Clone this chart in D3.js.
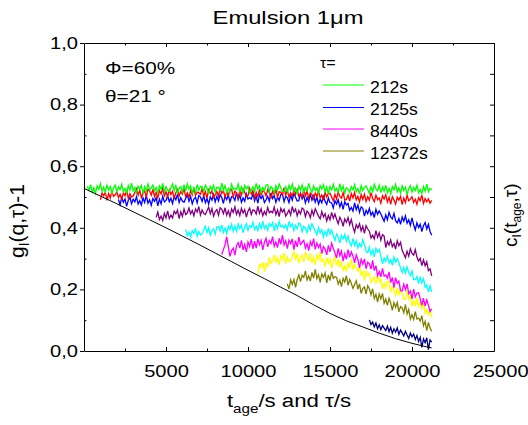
<!DOCTYPE html>
<html>
<head>
<meta charset="utf-8">
<script src="https://cdn.jsdelivr.net/npm/d3@7"></script>
<style>
body { margin: 0; background: #fff; }
text { font-family: "Liberation Sans", Arial, sans-serif; fill: #000; }
</style>
</head>
<body>
<script>
// sampling step of every series (s)
const step = 100

// g_I(q,tau)-1 against t_age, one array per tau, with the first t_age
const start212 = 200
const g212 = [
    0.535, 0.521, 0.540, 0.516, 0.530, 0.512, 0.536, 0.525, 0.543, 0.519,
    0.532, 0.515, 0.538, 0.523, 0.534, 0.510, 0.529, 0.539, 0.518, 0.533,
    0.524, 0.541, 0.517, 0.528, 0.514, 0.537, 0.522, 0.545, 0.520, 0.531,
    0.513, 0.535, 0.526, 0.538, 0.511, 0.533, 0.518, 0.542, 0.524, 0.529,
    0.539, 0.520, 0.531, 0.514, 0.536, 0.526, 0.544, 0.517, 0.533, 0.522,
    0.518, 0.530, 0.542, 0.521, 0.537, 0.513, 0.528, 0.534, 0.516, 0.540,
    0.519, 0.543, 0.525, 0.536, 0.512, 0.530, 0.516, 0.540, 0.521, 0.535,
    0.533, 0.518, 0.539, 0.529, 0.510, 0.534, 0.523, 0.538, 0.515, 0.532,
    0.531, 0.520, 0.545, 0.522, 0.537, 0.514, 0.528, 0.517, 0.541, 0.524,
    0.529, 0.524, 0.542, 0.518, 0.533, 0.511, 0.538, 0.526, 0.535, 0.513,
    0.522, 0.533, 0.517, 0.544, 0.526, 0.536, 0.514, 0.531, 0.520, 0.539,
    0.540, 0.516, 0.534, 0.528, 0.513, 0.537, 0.521, 0.542, 0.530, 0.518,
    0.519, 0.533, 0.514, 0.538, 0.524, 0.542, 0.518, 0.529, 0.511, 0.535,
    0.522, 0.539, 0.516, 0.531, 0.520, 0.544, 0.525, 0.515, 0.536, 0.521,
    0.530, 0.513, 0.537, 0.526, 0.540, 0.517, 0.532, 0.509, 0.534, 0.523,
    0.541, 0.519, 0.528, 0.516, 0.543, 0.521, 0.536, 0.512, 0.530, 0.525,
    0.515, 0.534, 0.523, 0.540, 0.518, 0.528, 0.510, 0.537, 0.521, 0.532,
    0.536, 0.524, 0.512, 0.533, 0.517, 0.541, 0.526, 0.520, 0.538, 0.514,
    0.533, 0.519, 0.538, 0.514, 0.528, 0.510, 0.534, 0.523, 0.541, 0.517,
    0.530, 0.513, 0.536, 0.521, 0.532, 0.508, 0.527, 0.537, 0.516, 0.531,
    0.521, 0.538, 0.514, 0.525, 0.511, 0.534, 0.519, 0.542, 0.517, 0.528,
    0.523
]

const startRed = 1000
const gRed = [
    0.491, 0.513, 0.504, 0.516, 0.489, 0.511, 0.496, 0.520, 0.502, 0.507,
    0.517, 0.498, 0.509, 0.492, 0.514, 0.504, 0.522, 0.495, 0.511, 0.500,
    0.503, 0.515, 0.527, 0.506, 0.522, 0.498, 0.513, 0.519, 0.501, 0.525,
    0.520, 0.506, 0.525, 0.501, 0.515, 0.497, 0.521, 0.510, 0.528, 0.504,
    0.517, 0.500, 0.523, 0.508, 0.519, 0.495, 0.514, 0.524, 0.503, 0.518,
    0.509, 0.526, 0.502, 0.513, 0.499, 0.522, 0.507, 0.530, 0.505, 0.516,
    0.514, 0.509, 0.527, 0.503, 0.518, 0.496, 0.523, 0.511, 0.520, 0.498,
    0.507, 0.518, 0.502, 0.529, 0.511, 0.521, 0.499, 0.516, 0.505, 0.524,
    0.525, 0.501, 0.519, 0.513, 0.498, 0.522, 0.506, 0.527, 0.515, 0.503,
    0.504, 0.528, 0.510, 0.521, 0.497, 0.515, 0.501, 0.525, 0.506, 0.520,
    0.518, 0.503, 0.524, 0.514, 0.495, 0.519, 0.508, 0.523, 0.500, 0.517,
    0.516, 0.505, 0.530, 0.507, 0.522, 0.499, 0.513, 0.502, 0.526, 0.509,
    0.524, 0.502, 0.511, 0.499, 0.526, 0.504, 0.519, 0.495, 0.513, 0.508,
    0.494, 0.513, 0.502, 0.519, 0.497, 0.507, 0.489, 0.516, 0.500, 0.511,
    0.512, 0.500, 0.488, 0.509, 0.493, 0.517, 0.502, 0.496, 0.514, 0.490,
    0.492, 0.506, 0.487, 0.511, 0.497, 0.515, 0.491, 0.502, 0.484, 0.508,
    0.492, 0.509, 0.486, 0.501, 0.490, 0.514, 0.495, 0.485, 0.506, 0.491,
    0.497, 0.480, 0.504, 0.493, 0.507, 0.484, 0.499, 0.476, 0.501, 0.490,
    0.477, 0.499, 0.490, 0.502, 0.475, 0.497, 0.482, 0.506, 0.488, 0.493,
    0.501, 0.482, 0.493, 0.476, 0.498, 0.488, 0.506, 0.479, 0.495, 0.484,
    0.494, 0.480, 0.489
]

const start2125 = 2100
const g2125 = [
    0.492, 0.475, 0.498, 0.483, 0.494, 0.470, 0.489, 0.499, 0.478, 0.493,
    0.484, 0.501, 0.477, 0.488, 0.474, 0.497, 0.482, 0.505, 0.480, 0.491,
    0.473, 0.495, 0.486, 0.498, 0.471, 0.493, 0.478, 0.502, 0.484, 0.489,
    0.504, 0.485, 0.496, 0.479, 0.501, 0.491, 0.509, 0.482, 0.498, 0.487,
    0.483, 0.495, 0.507, 0.486, 0.502, 0.478, 0.493, 0.499, 0.481, 0.505,
    0.500, 0.486, 0.505, 0.481, 0.495, 0.477, 0.501, 0.490, 0.508, 0.484,
    0.502, 0.487, 0.508, 0.498, 0.479, 0.503, 0.492, 0.507, 0.484, 0.501,
    0.500, 0.489, 0.514, 0.491, 0.506, 0.483, 0.497, 0.486, 0.510, 0.493,
    0.498, 0.493, 0.511, 0.487, 0.502, 0.480, 0.507, 0.495, 0.504, 0.482,
    0.491, 0.502, 0.486, 0.513, 0.495, 0.505, 0.483, 0.500, 0.489, 0.508,
    0.509, 0.485, 0.503, 0.497, 0.482, 0.506, 0.490, 0.511, 0.499, 0.487,
    0.488, 0.512, 0.494, 0.505, 0.481, 0.499, 0.485, 0.509, 0.490, 0.504,
    0.483, 0.500, 0.477, 0.492, 0.481, 0.505, 0.486, 0.476, 0.497, 0.482,
    0.481, 0.464, 0.488, 0.477, 0.491, 0.468, 0.483, 0.460, 0.485, 0.474,
    0.479, 0.457, 0.466, 0.454, 0.481, 0.459, 0.474, 0.450, 0.468, 0.463,
    0.438, 0.457, 0.446, 0.463, 0.441, 0.451, 0.433, 0.460, 0.444, 0.455,
    0.445, 0.433, 0.421, 0.442, 0.426, 0.450, 0.435, 0.429, 0.447, 0.423,
    0.416, 0.430, 0.411, 0.435, 0.421, 0.439, 0.415, 0.426, 0.408, 0.432,
    0.410, 0.393, 0.416, 0.401, 0.412, 0.388, 0.407, 0.417, 0.396, 0.411,
    0.388, 0.376
]

const startPurple = 4400
const gPurple = [
    0.434, 0.451, 0.427, 0.438, 0.424, 0.447, 0.432, 0.455, 0.430, 0.441,
    0.432, 0.454, 0.445, 0.457, 0.430, 0.452, 0.437, 0.461, 0.443, 0.448,
    0.464, 0.445, 0.456, 0.439, 0.461, 0.451, 0.469, 0.442, 0.458, 0.447,
    0.443, 0.455, 0.467, 0.446, 0.462, 0.438, 0.453, 0.459, 0.441, 0.465,
    0.460, 0.446, 0.465, 0.441, 0.455, 0.437, 0.461, 0.450, 0.468, 0.444,
    0.457, 0.440, 0.463, 0.448, 0.459, 0.435, 0.454, 0.464, 0.443, 0.458,
    0.456, 0.445, 0.470, 0.447, 0.462, 0.439, 0.453, 0.442, 0.466, 0.449,
    0.454, 0.449, 0.467, 0.443, 0.458, 0.436, 0.463, 0.451, 0.460, 0.438,
    0.447, 0.458, 0.442, 0.469, 0.451, 0.461, 0.439, 0.456, 0.445, 0.464,
    0.460, 0.436, 0.454, 0.448, 0.433, 0.457, 0.441, 0.462, 0.450, 0.438,
    0.429, 0.453, 0.435, 0.446, 0.422, 0.440, 0.426, 0.450, 0.431, 0.445,
    0.428, 0.413, 0.434, 0.424, 0.405, 0.429, 0.418, 0.433, 0.410, 0.427,
    0.403, 0.386, 0.410, 0.399, 0.413, 0.390, 0.405, 0.382, 0.407, 0.396,
    0.389, 0.367, 0.376, 0.364, 0.391, 0.369, 0.384, 0.360, 0.378, 0.373,
    0.336, 0.355, 0.344, 0.361, 0.339, 0.349, 0.331, 0.358, 0.342, 0.353,
    0.327, 0.315, 0.303, 0.324, 0.308, 0.332, 0.317, 0.311, 0.329, 0.305,
    0.292, 0.301, 0.277, 0.296, 0.277, 0.290, 0.261, 0.267, 0.244
]

const startCyan = 6200
const gCyan = [
    0.394, 0.375, 0.386, 0.369, 0.391, 0.381, 0.399, 0.372, 0.388, 0.377,
    0.381, 0.393, 0.405, 0.384, 0.400, 0.376, 0.391, 0.397, 0.379, 0.403,
    0.404, 0.390, 0.409, 0.385, 0.399, 0.381, 0.405, 0.394, 0.412, 0.388,
    0.406, 0.389, 0.412, 0.397, 0.408, 0.384, 0.403, 0.413, 0.392, 0.407,
    0.401, 0.418, 0.394, 0.405, 0.391, 0.414, 0.399, 0.422, 0.397, 0.408,
    0.392, 0.414, 0.405, 0.417, 0.390, 0.412, 0.397, 0.421, 0.403, 0.408,
    0.399, 0.410, 0.394, 0.421, 0.403, 0.413, 0.391, 0.408, 0.397, 0.416,
    0.411, 0.387, 0.405, 0.399, 0.384, 0.408, 0.392, 0.413, 0.401, 0.389,
    0.377, 0.401, 0.383, 0.394, 0.370, 0.388, 0.374, 0.398, 0.379, 0.393,
    0.374, 0.359, 0.380, 0.370, 0.351, 0.375, 0.364, 0.379, 0.356, 0.373,
    0.352, 0.341, 0.366, 0.343, 0.358, 0.335, 0.349, 0.338, 0.362, 0.345,
    0.324, 0.319, 0.337, 0.313, 0.328, 0.306, 0.333, 0.321, 0.330, 0.308,
    0.283, 0.302, 0.291, 0.308, 0.286, 0.296, 0.278, 0.305, 0.289, 0.300,
    0.286, 0.270, 0.255, 0.272, 0.253, 0.273, 0.255, 0.245, 0.260, 0.232,
    0.232, 0.242, 0.219, 0.239, 0.221, 0.235, 0.207, 0.214, 0.192, 0.212,
    0.192
]

const start8440 = 8400
const g8440 = [
    0.313, 0.329, 0.345, 0.371, 0.338, 0.307, 0.326, 0.334, 0.311, 0.342,
    0.352, 0.334, 0.359, 0.328, 0.346, 0.322, 0.354, 0.339, 0.363, 0.332,
    0.357, 0.334, 0.364, 0.345, 0.359, 0.328, 0.353, 0.366, 0.338, 0.358,
    0.349, 0.371, 0.340, 0.354, 0.336, 0.366, 0.346, 0.376, 0.344, 0.358,
    0.332, 0.360, 0.349, 0.364, 0.329, 0.358, 0.338, 0.370, 0.346, 0.353,
    0.359, 0.334, 0.348, 0.326, 0.355, 0.342, 0.365, 0.330, 0.351, 0.336,
    0.347, 0.316, 0.339, 0.331, 0.312, 0.343, 0.322, 0.350, 0.334, 0.318,
    0.302, 0.333, 0.309, 0.324, 0.292, 0.316, 0.298, 0.329, 0.304, 0.322,
    0.308, 0.286, 0.312, 0.297, 0.270, 0.298, 0.282, 0.299, 0.267, 0.288,
    0.283, 0.266, 0.294, 0.261, 0.277, 0.244, 0.258, 0.241, 0.268, 0.243,
    0.247, 0.237, 0.257, 0.222, 0.239, 0.206, 0.238, 0.220, 0.227, 0.196,
    0.195, 0.217, 0.199, 0.218, 0.186, 0.195, 0.169, 0.201, 0.176, 0.188,
    0.189, 0.169, 0.148, 0.172, 0.146, 0.166, 0.149, 0.128, 0.137
]

const startYellow = 10600
const gYellow = [
    0.250, 0.280, 0.272, 0.289, 0.257, 0.288, 0.271, 0.305, 0.284, 0.293,
    0.313, 0.288, 0.302, 0.280, 0.309, 0.296, 0.319, 0.284, 0.305, 0.290,
    0.291, 0.307, 0.323, 0.295, 0.316, 0.285, 0.304, 0.312, 0.289, 0.320,
    0.310, 0.292, 0.317, 0.286, 0.304, 0.280, 0.312, 0.297, 0.321, 0.290,
    0.297, 0.274, 0.304, 0.285, 0.299, 0.268, 0.293, 0.306, 0.278, 0.298,
    0.271, 0.293, 0.262, 0.276, 0.258, 0.288, 0.268, 0.298, 0.266, 0.280,
    0.268, 0.258, 0.279, 0.244, 0.261, 0.230, 0.262, 0.244, 0.252, 0.222,
    0.230, 0.242, 0.218, 0.250, 0.224, 0.234, 0.202, 0.221, 0.204, 0.226,
    0.224, 0.190, 0.210, 0.199, 0.177, 0.205, 0.181, 0.206, 0.187, 0.168,
    0.167, 0.195, 0.168, 0.180, 0.145, 0.166, 0.145, 0.173, 0.145, 0.160,
    0.139, 0.157, 0.122, 0.135, 0.115, 0.140, 0.109
]

const start12372 = 12400
const g12372 = [
    0.218, 0.201, 0.231, 0.216, 0.232, 0.207, 0.232, 0.247, 0.225, 0.246,
    0.239, 0.260, 0.231, 0.244, 0.227, 0.255, 0.237, 0.265, 0.235, 0.248,
    0.223, 0.250, 0.239, 0.253, 0.221, 0.247, 0.229, 0.258, 0.236, 0.242,
    0.239, 0.217, 0.230, 0.209, 0.236, 0.224, 0.245, 0.213, 0.232, 0.219,
    0.203, 0.216, 0.228, 0.201, 0.218, 0.187, 0.203, 0.208, 0.185, 0.212,
    0.202, 0.182, 0.202, 0.170, 0.184, 0.159, 0.185, 0.169, 0.187, 0.155,
    0.169, 0.148, 0.171, 0.156, 0.132, 0.157, 0.142, 0.157, 0.127, 0.144,
    0.140, 0.124, 0.151, 0.120, 0.135, 0.104, 0.118, 0.102, 0.128, 0.104,
    0.107, 0.097, 0.115, 0.082, 0.096, 0.066, 0.093, 0.075, 0.064
]

const startNavy = 17400
const gNavy = [
    0.101, 0.086, 0.094, 0.078, 0.091, 0.072, 0.085, 0.069, 0.082, 0.074,
    0.066, 0.081, 0.063, 0.077, 0.058, 0.072, 0.061, 0.075, 0.054, 0.068,
    0.059, 0.049, 0.064, 0.052, 0.041, 0.058, 0.046, 0.055, 0.037, 0.050,
    0.031, 0.044, 0.012, 0.039, 0.027, 0.043, 0.004, 0.036, 0.029
]

// black curve: g_I(q,tau)-1 against tau
const tauBlack = [0, 1000, 2000, 3000, 4000, 5000, 6000, 7000, 8000, 9000, 10000,
    11000, 12000, 13000, 14000, 15000, 16000, 17000, 18000, 19000, 20000, 21000, 21200]
const gBlack = [0.528, 0.503, 0.478, 0.452, 0.426, 0.400, 0.373, 0.346, 0.318, 0.290, 0.262,
    0.235, 0.207, 0.180, 0.150, 0.122, 0.098, 0.078, 0.058, 0.040, 0.025, 0.012, 0.010]

// axis ticks
const xLabelTicks = [5000, 10000, 15000, 20000, 25000]
const xMinorTicks = [2500, 7500, 12500, 17500, 22500]
const yLabelTicks = [0, 0.2, 0.4, 0.6, 0.8, 1.0]
const yMinorTicks = [0.1, 0.3, 0.5, 0.7, 0.9]

// legend
const legendLabels = ["212s", "2125s", "8440s", "12372s"]
const legendColors = ["#00ff00", "#0000ff", "#ff00ff", "#808000"]

// page setup
let width = 528
let height = 425
let plotLeft = 84, plotRight = 494, plotTop = 43, plotBottom = 351

let svg = d3.select("body")
    .append("svg")
    .attr("width", width)
    .attr("height", height)

let x = d3.scaleLinear().domain([0, 25000]).range([plotLeft, plotRight])
let y = d3.scaleLinear().domain([0, 1]).range([plotBottom, plotTop])

// series in drawing order (last one on top)
let series = [
    {start: startNavy, values: gNavy, color: "#000080"},
    {start: start12372, values: g12372, color: "#808000"},
    {start: startYellow, values: gYellow, color: "#ffff00"},
    {start: start8440, values: g8440, color: "#ff00ff"},
    {start: startCyan, values: gCyan, color: "#00ffff"},
    {start: startPurple, values: gPurple, color: "#800080"},
    {start: start2125, values: g2125, color: "#0000ff"},
    {start: startRed, values: gRed, color: "#ff0000"},
    {start: start212, values: g212, color: "#00ff00"}
]

series.forEach(s => {
    let line = d3.line()
        .x((d, i) => x(s.start + i * step))
        .y(d => y(d))
    svg.append("path")
        .datum(s.values)
        .attr("d", line)
        .attr("fill", "none")
        .attr("stroke", s.color)
        .attr("stroke-width", 1.3)
})

let blackLine = d3.line()
    .x((d, i) => x(tauBlack[i]))
    .y(d => y(d))
svg.append("path")
    .datum(gBlack)
    .attr("d", blackLine)
    .attr("fill", "none")
    .attr("stroke", "#000")
    .attr("stroke-width", 1)

// axes
let tickStretch = 1.22
let comma = d => d3.format(".1f")(d).replace(".", ",")

let gBottom = svg.append("g")
    .attr("transform", `translate(0,${plotBottom})`)
    .call(d3.axisBottom(x).tickValues(xLabelTicks).tickSizeInner(-4).tickSizeOuter(0).tickPadding(14).tickFormat(d3.format("d")))
gBottom.selectAll("text")
    .attr("font-size", 16.5)
    .attr("transform", `scale(${tickStretch},1)`)
gBottom.selectAll("text").filter(d => d === 25000).attr("dx", 5)
svg.append("g")
    .attr("transform", `translate(0,${plotBottom})`)
    .call(d3.axisBottom(x).tickValues(xMinorTicks).tickSize(-2.5).tickFormat(""))
    .select(".domain").remove()

let gLeft = svg.append("g")
    .attr("transform", `translate(${plotLeft},0)`)
    .call(d3.axisLeft(y).tickValues(yLabelTicks).tickSizeInner(4).tickSizeOuter(0).tickPadding(2).tickFormat(comma))
gLeft.selectAll("text")
    .attr("font-size", 16.5)
    .attr("x", -6 / tickStretch)
    .attr("transform", `scale(${tickStretch},1)`)
svg.append("g")
    .attr("transform", `translate(${plotLeft},0)`)
    .call(d3.axisLeft(y).tickValues(yMinorTicks).tickSize(-2.5).tickFormat(""))
    .select(".domain").remove()

svg.append("g")
    .attr("transform", `translate(0,${plotTop})`)
    .call(d3.axisTop(x).tickValues(xLabelTicks).tickSizeInner(-4).tickSizeOuter(0).tickFormat(""))
svg.append("g")
    .attr("transform", `translate(0,${plotTop})`)
    .call(d3.axisTop(x).tickValues(xMinorTicks).tickSize(-2.5).tickFormat(""))
    .select(".domain").remove()

svg.append("g")
    .attr("transform", `translate(${plotRight},0)`)
    .call(d3.axisRight(y).tickValues(yLabelTicks.concat(yMinorTicks)).tickSizeInner(-4).tickSizeOuter(0).tickFormat(""))

svg.selectAll(".domain, .tick line").attr("stroke", "#000")

// texts
function addText(x0, y0, size, stretch, anchor) {
    return svg.append("text")
        .attr("transform", `translate(${x0},${y0}) scale(${stretch},1)`)
        .attr("font-size", size)
        .attr("text-anchor", anchor || "start")
}

addText(288, 24, 19, 1.25, "middle").text("Emulsion 1μm")
addText(105, 74, 17, 1.22).text("Φ=60%")
addText(105, 101.5, 17, 1.22).text("θ=21 °")
addText(320, 68, 14, 1.15).text("τ=")

let xLabel = addText(289, 407, 19, 1.17, "middle")
xLabel.append("tspan").text("t")
xLabel.append("tspan").attr("font-size", 13).attr("dy", 6).text("age")
xLabel.append("tspan").attr("dy", -6).text("/s and τ/s")

let yLabel = svg.append("text")
    .attr("transform", "translate(24,258) rotate(-90)")
    .attr("font-size", 21)
yLabel.append("tspan").text("g")
yLabel.append("tspan").attr("font-size", 14).attr("dy", 5).text("I")
yLabel.append("tspan").attr("dy", -5).text("(q,τ)-1")

let rLabel = svg.append("text")
    .attr("transform", "translate(517,247) rotate(-90)")
    .attr("font-size", 19)
rLabel.append("tspan").text("c")
rLabel.append("tspan").attr("font-size", 12).attr("dy", 4).text("I")
rLabel.append("tspan").attr("dy", -4).text("(t")
rLabel.append("tspan").attr("font-size", 12).attr("dy", 4).text("age")
rLabel.append("tspan").attr("dy", -4).text(",τ)")

// legend
let legendY = [85, 107.5, 129, 151]
legendLabels.forEach((lab, i) => {
    svg.append("line")
        .attr("x1", 323).attr("x2", 364)
        .attr("y1", legendY[i]).attr("y2", legendY[i])
        .attr("stroke", legendColors[i])
        .attr("stroke-width", 1)
    addText(370, legendY[i] + 7.5, 16, 1.1).text(lab)
})
</script>
</body>
</html>
